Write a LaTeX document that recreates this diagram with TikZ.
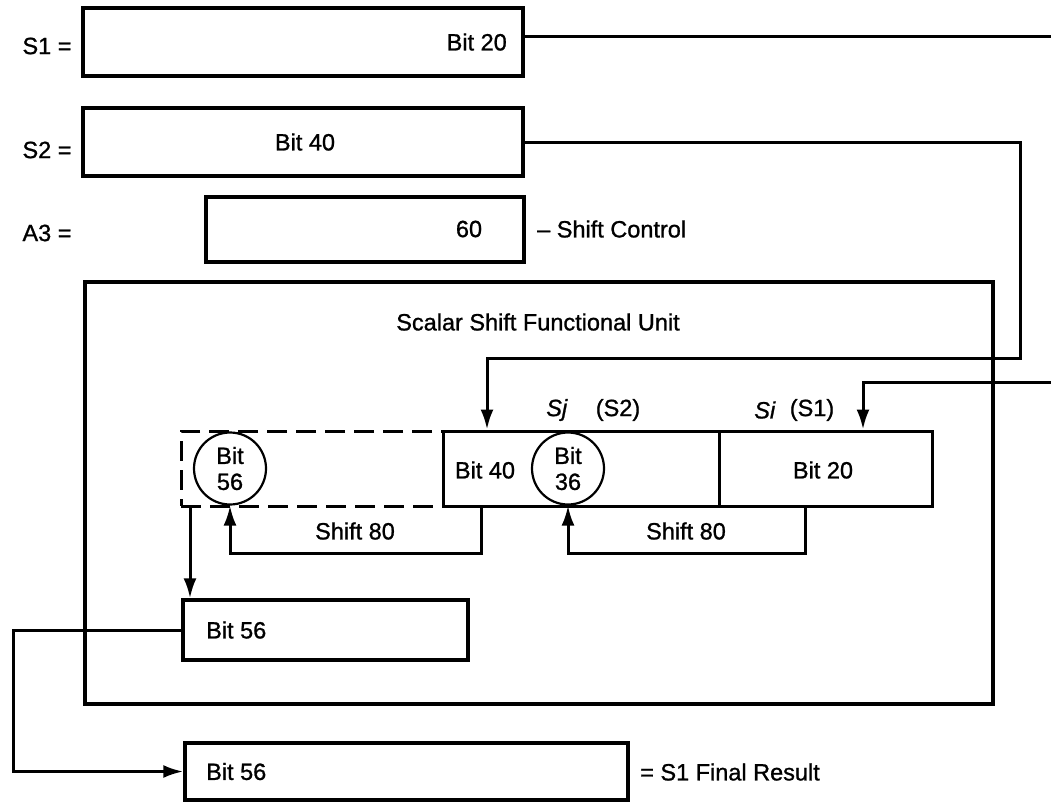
\documentclass[tikz,border=0pt]{standalone}
\usepackage{fontspec}
\setmainfont{Liberation Sans}[FakeBold=1]
\usetikzlibrary{arrows.meta}
\begin{document}
\begin{tikzpicture}[x=1pt,y=-1pt,
  font=\fontsize{23.5}{26}\selectfont,
  reg/.style={draw, line width=3.4pt, rectangle, inner sep=0pt},
  cell/.style={draw, line width=3pt, rectangle, inner sep=0pt},
  bit/.style={draw, line width=2.2pt, circle, inner sep=0pt, minimum size=72pt, align=center},
  conn/.style={line width=3pt},
  arr/.style={conn, -{Latex[length=20pt,width=13pt]}},
  txt/.style={inner sep=0pt}]
\useasboundingbox (0,0) rectangle (1051,809);

% registers
\node[reg, minimum width=440pt, minimum height=68pt] (s1) at (303,42) {};
\node[reg, minimum width=440pt, minimum height=68pt] (s2) at (303,142) {};
\node[reg, minimum width=318pt, minimum height=65pt] (a3) at (365,229.5) {};
\node[txt] (l1) at (47,46) {S1 =};
\node[txt] (l2) at (47,150) {S2 =};
\node[txt] (l3) at (47,233) {A3 =};
\node[txt, anchor=east] (t20) at (507,42) {Bit 20};
\node[txt] (t40) at (305,142) {Bit 40};
\node[txt] (t60) at (469,229) {60};
\node[txt, anchor=west] (sc) at (537,229) {-- Shift Control};

% functional unit
\node[draw, line width=3.4pt, rectangle, inner sep=0pt, minimum width=908pt, minimum height=422pt] (fu) at (539,493) {};
\node[txt] (title) at (538,322) {Scalar Shift Functional Unit};

\node[cell, dashed, dash pattern=on 20pt off 9pt, minimum width=262pt, minimum height=75pt] (dreg) at (312,468.5) {};
\node[cell, minimum width=276pt, minimum height=75pt] (sj) at (581,468.5) {};
\node[cell, minimum width=213pt, minimum height=75pt] (si) at (825.5,468.5) {};
\node[bit] (c56) at (230,468.5) {Bit\\56};
\node[bit] (c36) at (568,468.5) {Bit\\36};
\node[txt] (t40b) at (485,470) {Bit 40};
\node[txt] (t20b) at (823,470) {Bit 20};
\node[txt] (sjl) at (557,410) {\textit{Sj}};
\node[txt] (s2l) at (618,410) {(S2)};
\node[txt] (sil) at (765,410) {\textit{Si}};
\node[txt] (s1l) at (812,410) {(S1)};

% shift loops
\coordinate (k1) at (481,553);
\coordinate (k2) at (805,553);
\draw[arr] (sj.south -| k1) -- (k1) -| (c56.south);
\draw[arr] (si.south -| k2) -- (k2) -| (c36.south);
\node[txt] (sh1) at (355,531) {Shift 80};
\node[txt] (sh2) at (686,531) {Shift 80};

% result register inside unit
\node[reg, minimum width=285pt, minimum height=60pt] (b56) at (325.5,630) {};
\node[txt, anchor=west] (tb56) at (206,630) {Bit 56};
\coordinate (d) at (190,0);
\draw[arr] (dreg.south -| d) -- (b56.north -| d);

% final result
\node[reg, minimum width=443pt, minimum height=57pt] (fin) at (406.5,771.5) {};
\node[txt, anchor=west] (tfin) at (206,771.5) {Bit 56};
\node[txt, anchor=west] (fr) at (640,772) {= S1 Final Result};
\draw[arr] (b56.west) -- (13,630) |- (fin.west);

% inputs
\coordinate (j) at (487,358);
\draw[arr] (s2.east) -| (1020,358) -- (j) -- (sj.north -| j);
\coordinate (i) at (863,382);
\draw[arr] (s1.east |- 0,36) -- (1058,36) -- (1058,382) -- (i) -- (si.north -| i);
\end{tikzpicture}
\end{document}
